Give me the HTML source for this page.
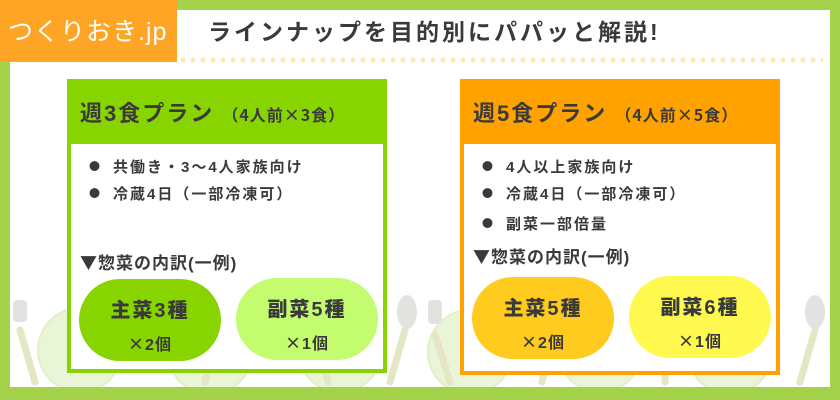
<!DOCTYPE html>
<html><head><meta charset="utf-8"><style>
*{margin:0;padding:0;box-sizing:border-box}
body{width:840px;height:400px;background:#a4d24a;position:relative;overflow:hidden;font-family:"Liberation Sans","Noto Sans CJK JP",sans-serif;color:#3a3a3a;font-weight:bold}
.j{font-family:"Noto Sans CJK JP",sans-serif}
em{font-style:normal;font-family:"Noto Sans CJK JP",sans-serif}
.abs{position:absolute}
.white{left:10px;top:10px;width:820px;height:377px;background:#fff}
.logo{left:0;top:0;width:177px;height:62px;background:#ffa526;color:#fff;font-size:25px;line-height:64px;padding-left:8px;font-weight:normal;letter-spacing:1px}
.title{left:208px;top:14px;font-size:23px;letter-spacing:3px;line-height:36px}
.dots{left:178px;top:57px;width:645px;height:6px;background:radial-gradient(circle,#ffe8b0 2.3px,transparent 2.6px) 0 0/10px 6px repeat-x}
.card{border:4px solid;background:#fff}
.hd{position:absolute;left:0;top:0;right:0;height:61px;padding-left:9px;font-size:22px;line-height:62px;letter-spacing:2px}
.hd small{font-size:16px;letter-spacing:1px}
.li{font-size:15px;letter-spacing:2px;position:absolute;left:18px}
.li i{font-style:normal;font-family:"Noto Sans CJK JP",sans-serif;font-size:11px;margin-right:11px;position:relative;top:-2px}
.sub{font-size:17px;position:absolute;left:9px;letter-spacing:1px}
.sub i{font-style:normal;font-family:"Noto Sans CJK JP",sans-serif;font-size:17px}
.pill{border-radius:42px;text-align:center;width:142px;height:82px}
.pill b{display:block;font-size:20px;letter-spacing:2px;margin-top:15px}
.pill span{display:block;font-size:16px;margin-top:8px;letter-spacing:1px}
</style></head><body>
<div class="abs white"></div>
<svg class="abs" style="left:10px;top:290px" width="820" height="97">
<g fill="#e9f5d6" stroke="#dff0c6" stroke-width="2">
<circle cx="70" cy="60" r="42"/><circle cx="200" cy="62" r="42"/><circle cx="330" cy="60" r="42"/><circle cx="460" cy="62" r="42"/><circle cx="590" cy="60" r="42"/><circle cx="720" cy="62" r="42"/>
</g>
<g stroke="#e5e6c4" stroke-width="7" stroke-linecap="round">
<line x1="10" y1="40" x2="25" y2="92"/><line x1="395" y1="40" x2="380" y2="92"/><line x1="425" y1="45" x2="440" y2="92"/><line x1="805" y1="40" x2="790" y2="92"/>
<line x1="200" y1="70" x2="195" y2="92"/><line x1="315" y1="80" x2="318" y2="92"/><line x1="535" y1="80" x2="532" y2="92"/><line x1="655" y1="80" x2="655" y2="92"/>
</g>
<g fill="#e2e3e0"><ellipse cx="397" cy="22" rx="10" ry="17"/><ellipse cx="805" cy="22" rx="10" ry="17"/>
<rect x="3" y="10" width="14" height="22" rx="4"/><rect x="418" y="10" width="14" height="24" rx="4"/></g>
</svg>
<div class="abs logo">つくりおき.jp</div>
<div class="abs title">ラインナップを目的別にパパッと解説!</div>
<div class="abs dots"></div>

<div class="abs card" style="left:67px;top:79px;width:320px;height:294px;border-color:#88d400">
<div class="hd" style="background:#88d400">週3食プラン <small class="j">（4人前×3食）</small></div>
<div class="li" style="top:73px"><i>●</i>共働き・3〜4人家族向け</div>
<div class="li" style="top:100px"><i>●</i>冷蔵4日（一部冷凍可）</div>
<div class="sub" style="top:166px"><i>▼</i>惣菜の内訳(一例)</div>
<div class="abs pill" style="left:8px;top:196px;background:#88d400"><b>主菜3種</b><span><em>×</em>2個</span></div>
<div class="abs pill" style="left:165px;top:195px;background:#c4fc70"><b>副菜5種</b><span><em>×</em>1個</span></div>
</div>

<div class="abs card" style="left:460px;top:79px;width:320px;height:296px;border-color:#ffa200">
<div class="hd" style="background:#ffa200">週5食プラン <small class="j">（4人前×5食）</small></div>
<div class="li" style="top:73px"><i>●</i>4人以上家族向け</div>
<div class="li" style="top:100px"><i>●</i>冷蔵4日（一部冷凍可）</div>
<div class="li" style="top:130px"><i>●</i>副菜一部倍量</div>
<div class="sub" style="top:160px"><i>▼</i>惣菜の内訳(一例)</div>
<div class="abs pill" style="left:8px;top:194px;background:#ffcb1f"><b>主菜5種</b><span><em>×</em>2個</span></div>
<div class="abs pill" style="left:165px;top:193px;background:#fff94f"><b>副菜6種</b><span><em>×</em>1個</span></div>
</div>
</body></html>
